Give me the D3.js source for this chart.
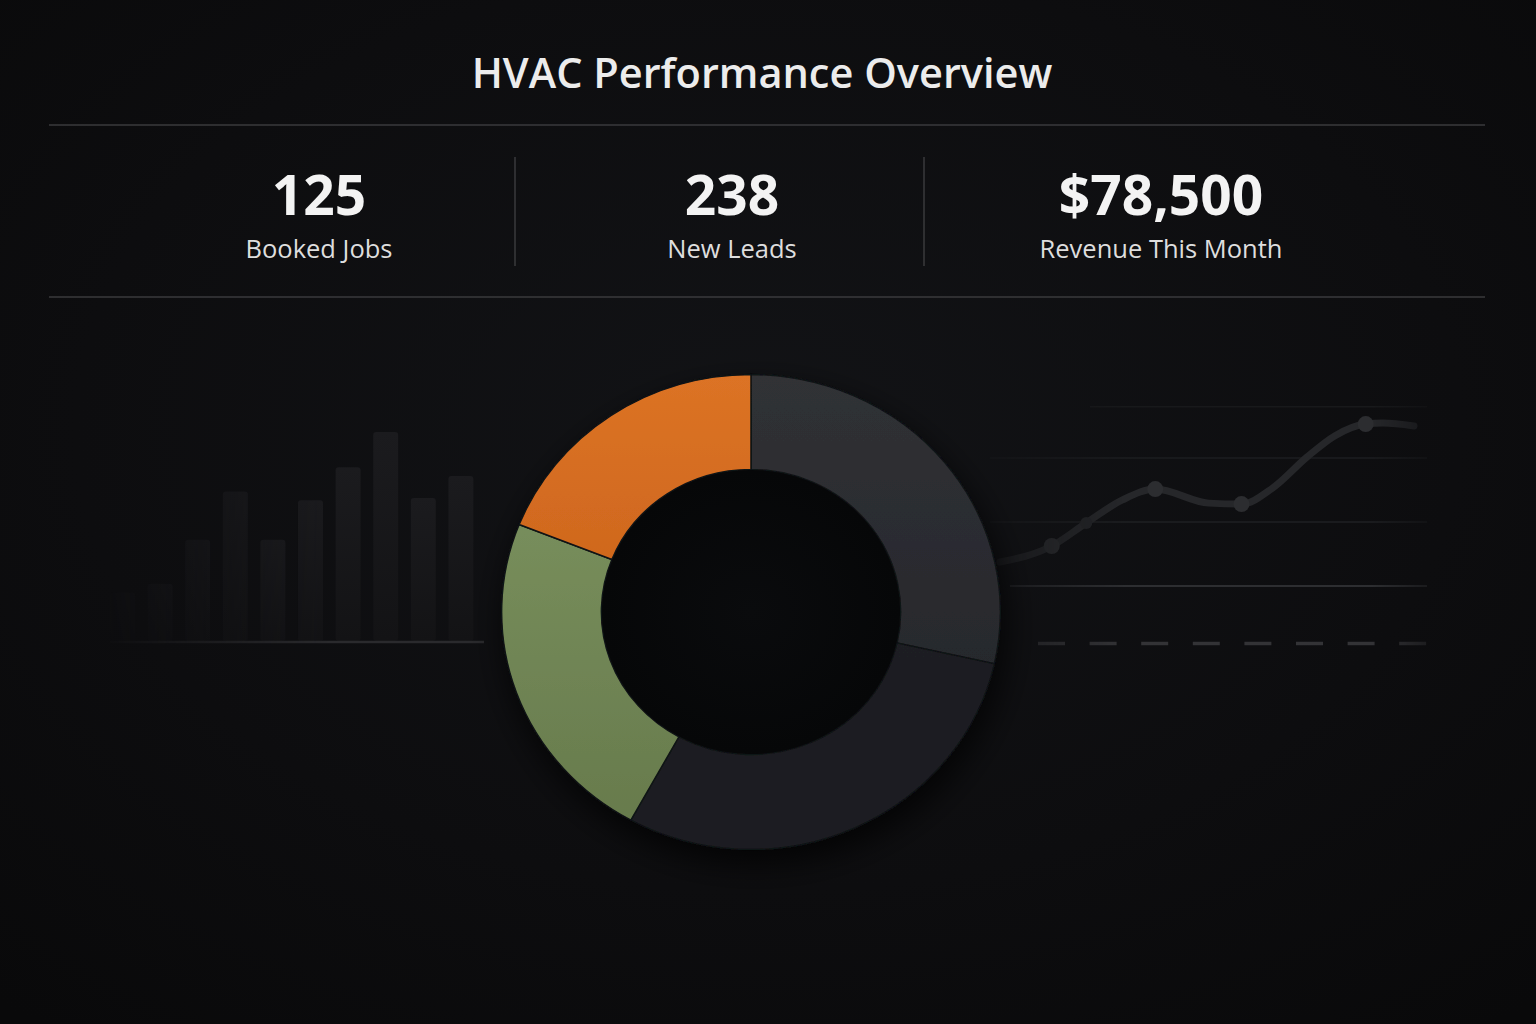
<!DOCTYPE html>
<html>
<head>
<meta charset="utf-8">
<script src="https://cdn.jsdelivr.net/npm/d3@7"></script>
<style>
  html, body { margin: 0; padding: 0; background: #0b0b0d; }
  svg { display: block; }
</style>
</head>
<body>
<svg id="chart" width="1536" height="1024"></svg>
<script>
const width = 1536, height = 1024;

// KPI row
const kpiValues = ["125", "238", "$78,500"];
const kpiLabels = ["Booked Jobs", "New Leads", "Revenue This Month"];

// donut: job mix (clockwise from 12 o'clock)
const donutCategories = ["Maintenance", "Installations", "Repairs", "Emergency"];
const donutValues = [28.5, 29.5, 23, 19];

// faded bar chart on the left
const barDays = ["1", "2", "3", "4", "5", "6", "7", "8", "9", "10"];
const barValues = [22, 26, 46, 68, 46, 64, 79, 95, 65, 75];

// faded line chart on the right
const lineX = [0, 1.5, 2.5, 3.55, 4.5, 6.05, 7.0, 7.9, 8.9, 9.7, 10.6, 11.1, 12];
const lineY = [7.5, 12.5, 19.7, 26.9, 30.3, 25.9, 25.6, 30.6, 40.3, 46.9, 50.6, 50.9, 50];
const lineDots = [1, 2, 4, 6, 10];
const lineGrid = [0, 20, 40, 56];

const svg = d3.select("#chart");
const defs = svg.append("defs");
const font = "'Open Sans', 'Noto Sans', sans-serif";

// background
const bg = defs.append("radialGradient").attr("id", "bg")
    .attr("cx", 0.5).attr("cy", 0.42).attr("r", 0.75);
bg.append("stop").attr("offset", 0).attr("stop-color", "#121316");
bg.append("stop").attr("offset", 0.6).attr("stop-color", "#0d0d0f");
bg.append("stop").attr("offset", 1).attr("stop-color", "#09090a");
svg.append("rect").attr("width", width).attr("height", height).attr("fill", "url(#bg)");

// title
svg.append("text")
    .attr("x", 762).attr("y", 88)
    .attr("text-anchor", "middle")
    .attr("font-family", font)
    .attr("font-size", "41.5px")
    .attr("font-weight", 600)
    .attr("fill", "#ececec")
    .text("HVAC Performance Overview");

// separators
[125, 297].forEach(y => {
    svg.append("line")
        .attr("x1", 49).attr("x2", 1485).attr("y1", y).attr("y2", y)
        .attr("stroke", "#3a3a3d").attr("stroke-width", 1.5);
});
[515, 924].forEach(x => {
    svg.append("line")
        .attr("x1", x).attr("x2", x).attr("y1", 157).attr("y2", 266)
        .attr("stroke", "#3a3a3d").attr("stroke-width", 1.5);
});

// KPIs
const kpiX = d3.scaleOrdinal().domain(kpiLabels).range([319, 732, 1161]);
const kpi = svg.append("g").selectAll("g").data(kpiLabels).enter().append("g")
    .attr("transform", d => `translate(${kpiX(d)},0)`);
kpi.append("text")
    .attr("y", 215)
    .attr("text-anchor", "middle")
    .attr("font-family", font)
    .attr("font-size", "55px")
    .attr("font-weight", 700)
    .attr("fill", "#f3f3f3")
    .text((d, i) => kpiValues[i]);
kpi.append("text")
    .attr("y", 258)
    .attr("text-anchor", "middle")
    .attr("font-family", font)
    .attr("font-size", "25.5px")
    .attr("fill", "#dedede")
    .text(d => d);

// ---------- left bar chart (ghosted) ----------
const barFade = defs.append("linearGradient").attr("id", "barFade")
    .attr("gradientUnits", "userSpaceOnUse")
    .attr("x1", 105).attr("x2", 330).attr("y1", 0).attr("y2", 0);
barFade.append("stop").attr("offset", 0).attr("stop-color", "#fff").attr("stop-opacity", 0.05);
barFade.append("stop").attr("offset", 1).attr("stop-color", "#fff").attr("stop-opacity", 1);
defs.append("mask").attr("id", "barMask")
    .append("rect").attr("x", 0).attr("y", 300).attr("width", 520).attr("height", 400)
    .attr("fill", "url(#barFade)");

const barFill = defs.append("linearGradient").attr("id", "barFill")
    .attr("x1", 0).attr("x2", 0).attr("y1", 0).attr("y2", 1);
barFill.append("stop").attr("offset", 0).attr("stop-color", "#1b1b1e");
barFill.append("stop").attr("offset", 1).attr("stop-color", "#131315");

const xBar = d3.scaleBand().domain(barDays).range([110, 473.4]).paddingInner(0.335).paddingOuter(0);
const yBar = d3.scaleLinear().domain([0, 100]).range([641, 421]);

const gBar = svg.append("g").attr("mask", "url(#barMask)");
gBar.selectAll("rect").data(barValues).enter().append("rect")
    .attr("x", (d, i) => xBar(barDays[i]))
    .attr("y", d => yBar(d))
    .attr("width", xBar.bandwidth())
    .attr("height", d => yBar(0) - yBar(d))
    .attr("rx", 3)
    .attr("fill", "url(#barFill)");
gBar.append("line")
    .attr("x1", 110).attr("x2", 484).attr("y1", 642).attr("y2", 642)
    .attr("stroke", "#2a2a2d").attr("stroke-width", 2.5);

// ---------- right line chart (ghosted) ----------
const xLine = d3.scaleLinear().domain([0, 12]).range([1000, 1414]);
const yLine = d3.scaleLinear().domain([0, 20]).range([586, 522]);

const lineFade = defs.append("linearGradient").attr("id", "lineFade")
    .attr("gradientUnits", "userSpaceOnUse")
    .attr("x1", 990).attr("x2", 1440).attr("y1", 0).attr("y2", 0);
lineFade.append("stop").attr("offset", 0).attr("stop-color", "#fff").attr("stop-opacity", 0.35);
lineFade.append("stop").attr("offset", 0.3).attr("stop-color", "#fff").attr("stop-opacity", 1);
lineFade.append("stop").attr("offset", 0.85).attr("stop-color", "#fff").attr("stop-opacity", 1);
lineFade.append("stop").attr("offset", 1).attr("stop-color", "#fff").attr("stop-opacity", 0.3);
defs.append("mask").attr("id", "lineMask")
    .append("rect").attr("x", 980).attr("y", 380).attr("width", 480).attr("height", 300)
    .attr("fill", "url(#lineFade)");

const gLine = svg.append("g").attr("mask", "url(#lineMask)");
const gridColors = ["#2d2e31", "#1f2023", "#1d1e21", "#18191b"];
const gridStart = [1010, 990, 990, 1090];
gLine.selectAll(".grid").data(lineGrid).enter().append("line")
    .attr("x1", (d, i) => gridStart[i]).attr("x2", 1427)
    .attr("y1", d => yLine(d)).attr("y2", d => yLine(d))
    .attr("stroke", (d, i) => gridColors[i])
    .attr("stroke-width", (d, i) => i === 0 ? 2 : 1.5);

// dashed baseline below
gLine.append("line")
    .attr("x1", 1038).attr("x2", 1427).attr("y1", 643.5).attr("y2", 643.5)
    .attr("stroke", "#333336").attr("stroke-width", 3.5)
    .attr("stroke-dasharray", "27 24.6");

const linePts = lineX.map((x, i) => [x, lineY[i]]);
gLine.append("path")
    .datum(linePts)
    .attr("d", d3.line().x(d => xLine(d[0])).y(d => yLine(d[1])).curve(d3.curveMonotoneX))
    .attr("fill", "none")
    .attr("stroke", "#26272a")
    .attr("stroke-width", 7)
    .attr("stroke-linecap", "round");
gLine.selectAll(".dot").data(lineDots).enter().append("circle")
    .attr("cx", i => xLine(lineX[i]))
    .attr("cy", i => yLine(lineY[i]))
    .attr("r", i => i === 2 ? 6 : 8)
    .attr("fill", i => i === 2 ? "#232427" : "#2c2d30");

// ---------- donut ----------
const shadow = defs.append("filter").attr("id", "shadow")
    .attr("x", "-30%").attr("y", "-30%").attr("width", "160%").attr("height", "160%");
shadow.append("feDropShadow").attr("dx", 4).attr("dy", 14).attr("stdDeviation", 16)
    .attr("flood-color", "#000").attr("flood-opacity", 0.75);

const sliceColors = [["#303135", "#222327"], ["#212226", "#1c1d21"], ["#7f9763", "#66794b"], ["#dc7325", "#cc651c"]];
sliceColors.forEach((c, i) => {
    const g = defs.append("linearGradient").attr("id", "slice" + i)
        .attr("gradientUnits", "userSpaceOnUse")
        .attr("x1", 0).attr("x2", 0).attr("y1", -238).attr("y2", 238);
    g.append("stop").attr("offset", 0).attr("stop-color", c[0]);
    g.append("stop").attr("offset", i === 3 ? 0.5 : 1).attr("stop-color", c[1]);
});

const outerR = 237.5, innerR = 142.5;
const pie = d3.pie().sort(null).value(d => d);
const arc = d3.arc().innerRadius(innerR).outerRadius(outerR);

const gDonut = svg.append("g")
    .attr("transform", "translate(751,612) scale(1.05,1)");
const gSlices = gDonut.append("g").attr("filter", "url(#shadow)");
gSlices.selectAll("path").data(pie(donutValues)).enter().append("path")
    .attr("d", arc)
    .attr("fill", (d, i) => `url(#slice${i})`)
    .attr("stroke", "#111214")
    .attr("stroke-width", 1.5)
    .attr("vector-effect", "non-scaling-stroke")
    .append("title").text((d, i) => donutCategories[i]);

// darker hole
const hole = defs.append("radialGradient").attr("id", "hole");
hole.append("stop").attr("offset", 0).attr("stop-color", "#0a0b0d");
hole.append("stop").attr("offset", 1).attr("stop-color", "#060708");
gDonut.append("circle").attr("r", innerR - 0.5).attr("fill", "url(#hole)");
</script>
</body>
</html>
